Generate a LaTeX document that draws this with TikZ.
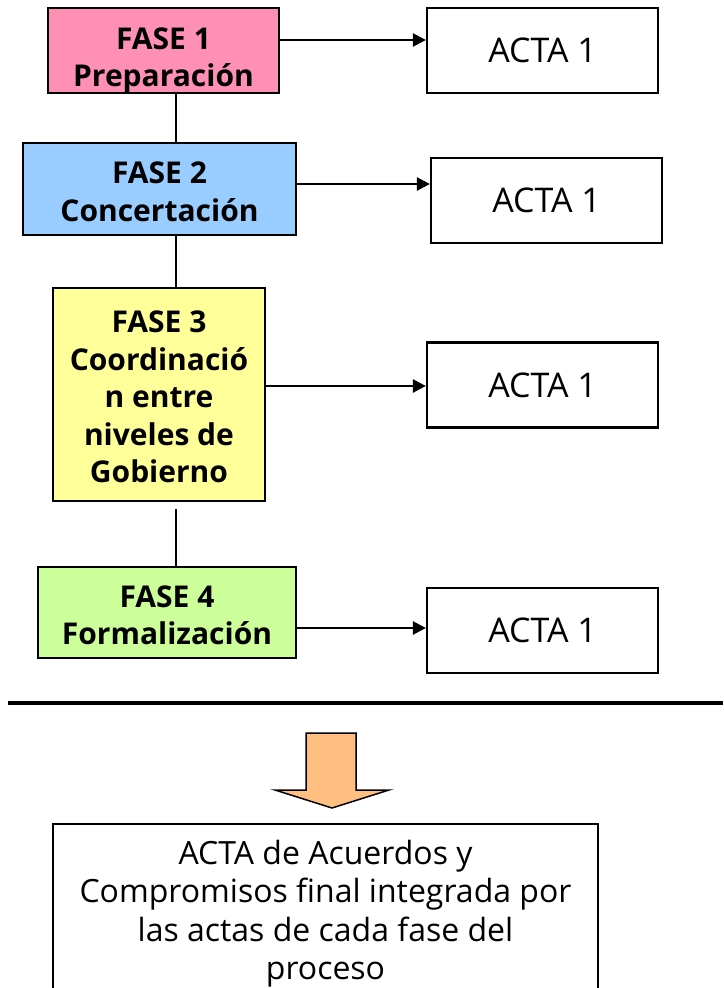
\documentclass[tikz,border=0pt]{standalone}
\usepackage{fontspec}
\setmainfont{Open Sans}
\usetikzlibrary{arrows.meta}
\definecolor{pinkf}{HTML}{FF90B5}
\definecolor{bluef}{HTML}{99CCFF}
\definecolor{yellowf}{HTML}{FFFF99}
\definecolor{greenf}{HTML}{CCFF99}
\definecolor{orangef}{HTML}{FFBF80}
\tikzset{
  phase/.style={draw=black, line width=2.2pt, inner sep=0pt},
  phasetext/.style={align=center, inner sep=0pt,
    font=\fontsize{30}{37.5}\selectfont\bfseries},
  acta/.style={draw=black, line width=2.2pt, align=center, inner sep=0pt,
    minimum width=231, minimum height=85, font=\fontsize{34}{36}\selectfont},
  link/.style={line width=2.4pt},
  arr/.style={line width=2.4pt, -{Triangle[length=13pt,width=13pt]}},
}
\begin{document}
\begin{tikzpicture}[x=1pt,y=-1pt]
\useasboundingbox (0,0) rectangle (723,988);
% phase boxes
\node[phase, fill=pinkf, minimum width=231, minimum height=85] (f1) at (163.5,50.5) {};
\node[phase, fill=bluef, minimum width=273, minimum height=92] (f2) at (159.5,189) {};
\node[phase, fill=yellowf, minimum width=212, minimum height=213] (f3) at (159,394.5) {};
\node[phase, fill=greenf, minimum width=258, minimum height=91] (f4) at (167,612.5) {};
\node[phasetext] (t1) at ([yshift=-10]f1.center) {FASE 1\\Preparación};
\node[phasetext] (t2) at ([yshift=-3]f2.center) {FASE 2\\Concertación};
\node[phasetext] (t3) at ([yshift=-2.5]f3.center) {FASE 3\\Coordinació\\n entre\\niveles de\\Gobierno};
\node[phasetext] (t4) at ([yshift=-3]f4.center) {FASE 4\\Formalización};
% acta boxes
\node[acta] (a1) at (542.5,50.5) {ACTA 1};
\node[acta] (a2) at (546.5,200.5) {ACTA 1};
\node[acta] (a3) at (542.5,385) {ACTA 1};
\node[acta] (a4) at (542.5,630.5) {ACTA 1};
% vertical links
\coordinate (vx) at (176,0);
\draw[link] (f1.south -| vx) -- (f2.north -| vx);
\draw[link] (f2.south -| vx) -- (f3.north -| vx);
\draw[link] ([yshift=-7]f3.south -| vx) -- (f4.north -| vx);
% arrows to actas
\draw[arr] ([yshift=10.5]f1.east) -- ([yshift=10.5]f1.east -| a1.west);
\draw[arr] ([yshift=5]f2.east) -- ([yshift=5]f2.east -| a2.west);
\draw[arr] ([yshift=8.5]f3.east) -- ([yshift=8.5]f3.east -| a3.west);
\draw[arr] ([yshift=-15.5]f4.east) -- ([yshift=-15.5]f4.east -| a4.west);
% separator
\coordinate (r1) at (8,703);
\coordinate (r2) at (723,703);
\draw[line width=3.5pt] (r1) -- (r2);
% block arrow
\draw[line width=1.5pt, fill=orangef, line join=miter]
  (306,733) -- (356,733) -- (356,790) -- (389,790) -- (332,808) -- (275,790) -- (306,790) -- cycle;
% final box
\node[draw=black, line width=2.2pt, inner sep=0pt, anchor=north,
  minimum width=545, minimum height=175] (fin) at (325.5,823) {};
\node[align=center, inner sep=0pt, font=\fontsize{32}{38.5}\selectfont] (fint) at (325.5,913.5)
  {ACTA de Acuerdos y\\Compromisos final integrada por\\las actas de cada fase del\\proceso};
\end{tikzpicture}
\end{document}
